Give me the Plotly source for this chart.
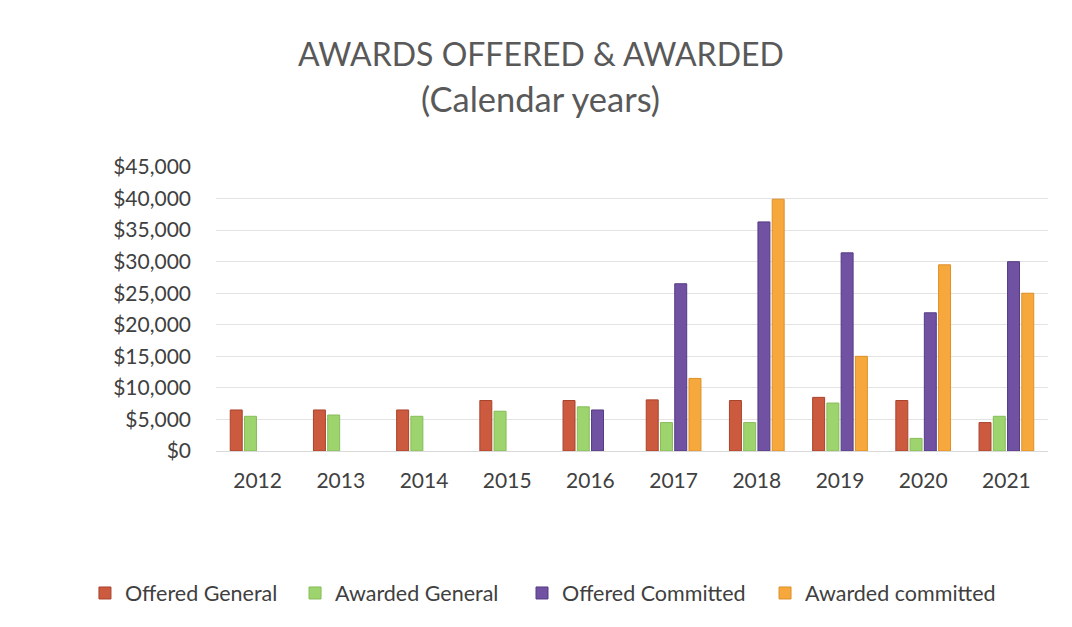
import plotly.graph_objects as go

years = ["2012", "2013", "2014", "2015", "2016", "2017", "2018", "2019", "2020", "2021"]
offered_general = [6500, 6500, 6500, 8000, 8000, 8100, 8000, 8500, 8000, 4500]
awarded_general = [5500, 5700, 5500, 6300, 7000, 4500, 4500, 7600, 2000, 5500]
offered_committed = [None, None, None, None, 6500, 26500, 36300, 31400, 21900, 30000]
awarded_committed = [None, None, None, None, None, 11500, 39900, 15000, 29500, 25000]

series = [
    ("Offered General", offered_general, "#CC5A3E", "#A8432C", "legend"),
    ("Awarded General", awarded_general, "#9DD46E", "#86BC58", "legend2"),
    ("Offered Committed", offered_committed, "#7051A2", "#553C85", "legend3"),
    ("Awarded committed", awarded_committed, "#F7A83C", "#DC9028", "legend4"),
]

FONT = "Lato"
fig = go.Figure()
for name, vals, col, edge, leg in series:
    fig.add_trace(go.Bar(
        x=years, y=vals, name=name, legend=leg,
        marker=dict(color=col, line=dict(color=edge, width=1)),
    ))

def leg(x):
    return dict(orientation="h", x=x, xanchor="left", y=-0.5, yanchor="middle",
                font=dict(size=21.5, color="#404040"), itemwidth=30,
                bgcolor="rgba(0,0,0,0)")

fig.update_layout(
    width=1064, height=619,
    paper_bgcolor="white", plot_bgcolor="white",
    margin=dict(l=208, r=24, t=159, b=176),
    barmode="group", bargap=0.315, bargroupgap=0.16,
    font=dict(family=FONT, color="#404040", size=21),
    showlegend=True,
    legend=leg(-0.1575),
    legend2=leg(0.0950),
    legend3=leg(0.3678),
    legend4=leg(0.6599),
    annotations=[
        dict(text="AWARDS OFFERED &amp; AWARDED", xref="paper", yref="paper",
             x=0.3906, y=1.40, xanchor="center", yanchor="middle", showarrow=False,
             font=dict(size=32, color="#595959", family=FONT)),
        dict(text="(Calendar years)", xref="paper", yref="paper",
             x=0.3906, y=1.24, xanchor="center", yanchor="middle", showarrow=False,
             font=dict(size=34.5, color="#595959", family=FONT)),
    ],
    shapes=[
        dict(type="line", xref="paper", yref="paper", x0=-0.251, x1=1.03, y0=1.563, y1=1.563,
             line=dict(color="#F0F0F0", width=1)),
        dict(type="line", xref="paper", yref="paper", x0=-0.251, x1=-0.251, y0=1.563, y1=-0.6,
             line=dict(color="#F0F0F0", width=1)),
    ],
)
fig.update_xaxes(showgrid=False, showline=True, linecolor="#D9D9D9", linewidth=1,
                 ticks="", tickfont=dict(size=21, color="#404040"), ticklabelstandoff=11)
fig.update_yaxes(range=[0, 45000], dtick=5000, tickprefix="$", tickformat=",d",
                 showgrid=True, gridcolor="#E3E3E3", gridwidth=1, zeroline=False,
                 showline=False, ticks="", tickfont=dict(size=21, color="#404040"),
                 ticklabelstandoff=24)

fig.write_html("out.html")
